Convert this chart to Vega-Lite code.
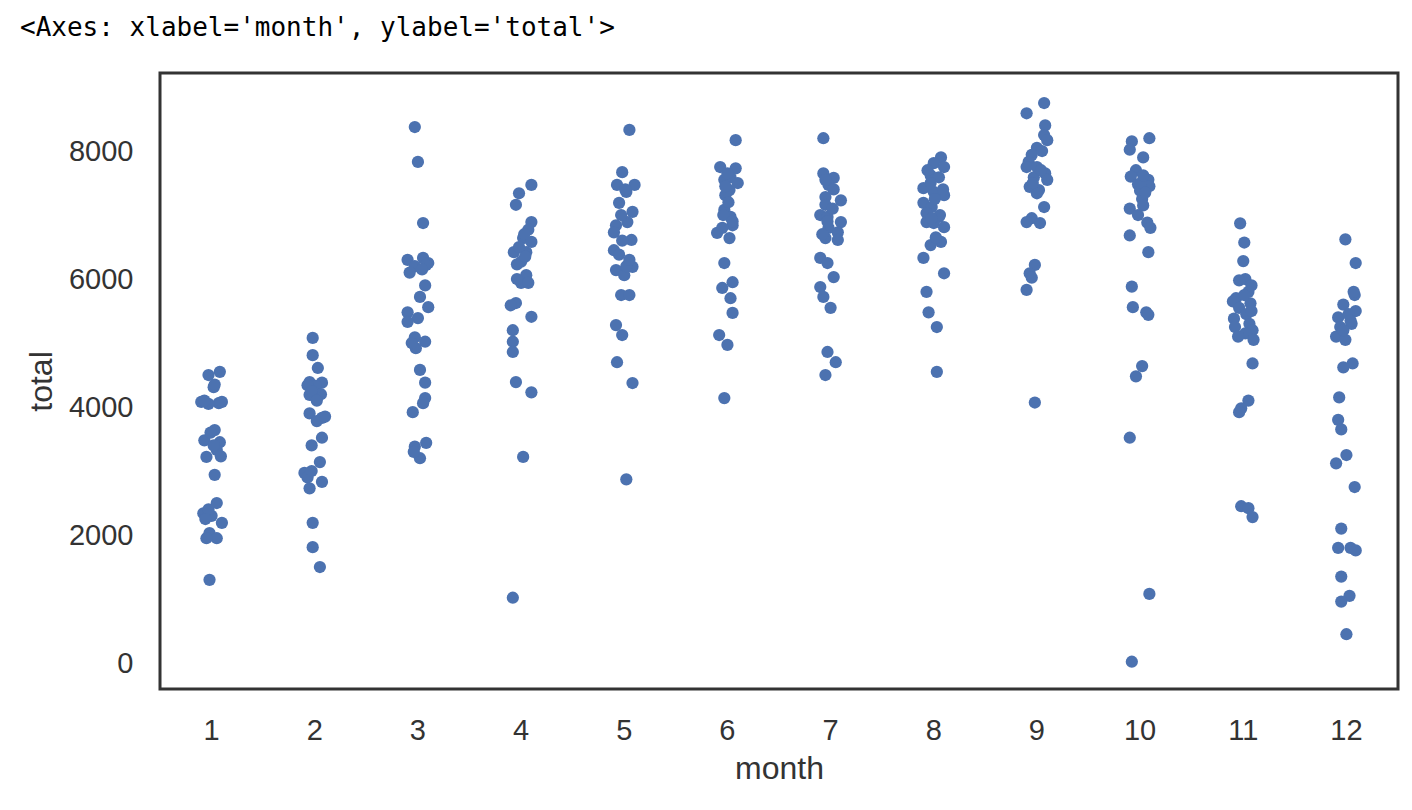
{
  "$schema": "https://vega.github.io/schema/vega-lite/v6.json",
  "width": 1238,
  "height": 616,
  "autosize": {"type": "none"},
  "padding": {"left": 160, "top": 73, "right": 14, "bottom": 121},
  "background": "white",
  "title": {
    "text": "<Axes: xlabel='month', ylabel='total'>",
    "anchor": "start",
    "frame": "group",
    "dx": -140,
    "offset": 32,
    "font": "DejaVu Sans Mono",
    "fontSize": 26,
    "fontWeight": "normal",
    "color": "#000000"
  },
  "config": {
    "view": {"stroke": "#333333", "strokeWidth": 3},
    "axis": {
      "domain": false,
      "ticks": false,
      "grid": false,
      "labelFont": "Liberation Sans",
      "titleFont": "Liberation Sans",
      "labelFontSize": 29,
      "titleFontSize": 32,
      "labelColor": "#333333",
      "titleColor": "#333333",
      "titleFontWeight": "normal"
    }
  },
  "datasets": {
    "d": [
      {"month":1,"total":4550,"j":0.08},{"month":1,"total":4500,"j":-0.03},{"month":1,"total":4310,"j":0.02},{"month":1,"total":4080,"j":-0.1},{"month":1,"total":4060,"j":0.07},{"month":1,"total":4080,"j":0.1},{"month":1,"total":4050,"j":-0.03},{"month":1,"total":3640,"j":0.03},{"month":1,"total":3480,"j":-0.07},{"month":1,"total":3450,"j":0.08},{"month":1,"total":3330,"j":0.05},{"month":1,"total":3220,"j":-0.05},{"month":1,"total":3230,"j":0.09},{"month":1,"total":2940,"j":0.03},{"month":1,"total":2500,"j":0.05},{"month":1,"total":2340,"j":-0.08},{"month":1,"total":2300,"j":0.0},{"month":1,"total":2400,"j":-0.03},{"month":1,"total":2190,"j":0.1},{"month":1,"total":2030,"j":-0.02},{"month":1,"total":1950,"j":0.05},{"month":1,"total":1950,"j":-0.05},{"month":1,"total":1300,"j":-0.02},{"month":1,"total":3400,"j":0.02},{"month":1,"total":3600,"j":-0.01},{"month":1,"total":2250,"j":-0.06},{"month":1,"total":4100,"j":-0.07},{"month":1,"total":4350,"j":0.03},
      {"month":2,"total":5080,"j":-0.02},{"month":2,"total":4810,"j":-0.02},{"month":2,"total":4610,"j":0.03},{"month":2,"total":4390,"j":-0.05},{"month":2,"total":4380,"j":0.07},{"month":2,"total":4330,"j":0.01},{"month":2,"total":4190,"j":-0.05},{"month":2,"total":4200,"j":0.06},{"month":2,"total":4150,"j":0.01},{"month":2,"total":4340,"j":-0.07},{"month":2,"total":3900,"j":-0.05},{"month":2,"total":3830,"j":0.07},{"month":2,"total":3780,"j":0.02},{"month":2,"total":3850,"j":0.1},{"month":2,"total":3520,"j":0.07},{"month":2,"total":3400,"j":-0.03},{"month":2,"total":3140,"j":0.05},{"month":2,"total":2970,"j":-0.1},{"month":2,"total":2900,"j":-0.07},{"month":2,"total":2830,"j":0.07},{"month":2,"total":2730,"j":-0.05},{"month":2,"total":2190,"j":-0.02},{"month":2,"total":1810,"j":-0.02},{"month":2,"total":1500,"j":0.05},{"month":2,"total":4250,"j":-0.03},{"month":2,"total":3000,"j":-0.03},{"month":2,"total":4100,"j":0.02},
      {"month":3,"total":8375,"j":-0.03},{"month":3,"total":7830,"j":0.0},{"month":3,"total":6875,"j":0.05},{"month":3,"total":6300,"j":-0.1},{"month":3,"total":6330,"j":0.05},{"month":3,"total":6250,"j":0.1},{"month":3,"total":6200,"j":-0.03},{"month":3,"total":6100,"j":-0.08},{"month":3,"total":6220,"j":0.08},{"month":3,"total":5900,"j":0.07},{"month":3,"total":5720,"j":0.02},{"month":3,"total":5560,"j":0.1},{"month":3,"total":5480,"j":-0.1},{"month":3,"total":5390,"j":0.0},{"month":3,"total":5330,"j":-0.1},{"month":3,"total":5090,"j":-0.03},{"month":3,"total":5020,"j":0.07},{"month":3,"total":4920,"j":-0.02},{"month":3,"total":5000,"j":-0.06},{"month":3,"total":4580,"j":0.02},{"month":3,"total":4380,"j":0.07},{"month":3,"total":4140,"j":0.07},{"month":3,"total":3920,"j":-0.05},{"month":3,"total":4060,"j":0.05},{"month":3,"total":3380,"j":-0.03},{"month":3,"total":3440,"j":0.08},{"month":3,"total":3200,"j":0.02},{"month":3,"total":6150,"j":0.04},{"month":3,"total":3300,"j":-0.04},
      {"month":4,"total":7470,"j":0.1},{"month":4,"total":7340,"j":-0.02},{"month":4,"total":7160,"j":-0.05},{"month":4,"total":6890,"j":0.1},{"month":4,"total":6770,"j":0.07},{"month":4,"total":6640,"j":0.02},{"month":4,"total":6580,"j":0.1},{"month":4,"total":6420,"j":-0.07},{"month":4,"total":6420,"j":0.05},{"month":4,"total":6270,"j":0.0},{"month":4,"total":6230,"j":-0.04},{"month":4,"total":6060,"j":0.05},{"month":4,"total":5940,"j":0.0},{"month":4,"total":5940,"j":0.07},{"month":4,"total":5625,"j":-0.05},{"month":4,"total":5590,"j":-0.1},{"month":4,"total":5410,"j":0.1},{"month":4,"total":5200,"j":-0.08},{"month":4,"total":5020,"j":-0.08},{"month":4,"total":4860,"j":-0.08},{"month":4,"total":4390,"j":-0.05},{"month":4,"total":4230,"j":0.1},{"month":4,"total":3220,"j":0.02},{"month":4,"total":1020,"j":-0.08},{"month":4,"total":6500,"j":-0.02},{"month":4,"total":6700,"j":0.03},{"month":4,"total":6000,"j":-0.04},{"month":4,"total":6350,"j":0.04},
      {"month":5,"total":8330,"j":0.05},{"month":5,"total":7670,"j":-0.02},{"month":5,"total":7470,"j":-0.07},{"month":5,"total":7470,"j":0.1},{"month":5,"total":7360,"j":0.02},{"month":5,"total":7190,"j":-0.05},{"month":5,"total":7050,"j":0.08},{"month":5,"total":6890,"j":0.03},{"month":5,"total":6840,"j":-0.08},{"month":5,"total":6730,"j":-0.1},{"month":5,"total":6610,"j":0.07},{"month":5,"total":6600,"j":-0.02},{"month":5,"total":6450,"j":-0.1},{"month":5,"total":6380,"j":-0.05},{"month":5,"total":6140,"j":-0.08},{"month":5,"total":6190,"j":0.08},{"month":5,"total":6060,"j":0.0},{"month":5,"total":6200,"j":0.02},{"month":5,"total":5750,"j":-0.03},{"month":5,"total":5750,"j":0.05},{"month":5,"total":5280,"j":-0.08},{"month":5,"total":5125,"j":-0.02},{"month":5,"total":4700,"j":-0.07},{"month":5,"total":4375,"j":0.08},{"month":5,"total":2870,"j":0.02},{"month":5,"total":7000,"j":-0.03},{"month":5,"total":6300,"j":0.05},{"month":5,"total":7400,"j":0.01},
      {"month":6,"total":8170,"j":0.08},{"month":6,"total":7750,"j":-0.07},{"month":6,"total":7730,"j":0.08},{"month":6,"total":7590,"j":0.03},{"month":6,"total":7550,"j":-0.03},{"month":6,"total":7500,"j":0.1},{"month":6,"total":7390,"j":0.02},{"month":6,"total":7310,"j":-0.02},{"month":6,"total":7080,"j":-0.03},{"month":6,"total":6970,"j":0.03},{"month":6,"total":6840,"j":0.05},{"month":6,"total":6720,"j":-0.1},{"month":6,"total":6640,"j":0.02},{"month":6,"total":6250,"j":-0.03},{"month":6,"total":5950,"j":0.05},{"month":6,"total":5860,"j":-0.05},{"month":6,"total":5700,"j":0.03},{"month":6,"total":5470,"j":0.05},{"month":6,"total":5125,"j":-0.08},{"month":6,"total":4970,"j":0.0},{"month":6,"total":4140,"j":-0.03},{"month":6,"total":7000,"j":-0.04},{"month":6,"total":6900,"j":0.05},{"month":6,"total":7450,"j":-0.02},{"month":6,"total":6800,"j":-0.05},{"month":6,"total":7200,"j":0.01},{"month":6,"total":7650,"j":0.0},
      {"month":7,"total":8200,"j":-0.07},{"month":7,"total":7650,"j":-0.07},{"month":7,"total":7580,"j":0.03},{"month":7,"total":7470,"j":-0.02},{"month":7,"total":7280,"j":-0.05},{"month":7,"total":7230,"j":0.1},{"month":7,"total":7160,"j":-0.05},{"month":7,"total":7000,"j":-0.1},{"month":7,"total":6970,"j":-0.03},{"month":7,"total":6890,"j":0.1},{"month":7,"total":6800,"j":-0.02},{"month":7,"total":6730,"j":0.07},{"month":7,"total":6640,"j":-0.05},{"month":7,"total":6610,"j":0.07},{"month":7,"total":6330,"j":-0.1},{"month":7,"total":6250,"j":-0.03},{"month":7,"total":6030,"j":0.03},{"month":7,"total":5875,"j":-0.1},{"month":7,"total":5720,"j":-0.07},{"month":7,"total":5550,"j":0.0},{"month":7,"total":4860,"j":-0.03},{"month":7,"total":4700,"j":0.05},{"month":7,"total":4500,"j":-0.05},{"month":7,"total":7100,"j":0.02},{"month":7,"total":6900,"j":-0.03},{"month":7,"total":7400,"j":0.03},{"month":7,"total":6700,"j":-0.08},{"month":7,"total":7550,"j":-0.05},
      {"month":8,"total":7900,"j":0.07},{"month":8,"total":7810,"j":0.0},{"month":8,"total":7750,"j":0.1},{"month":8,"total":7620,"j":-0.03},{"month":8,"total":7590,"j":0.05},{"month":8,"total":7420,"j":-0.1},{"month":8,"total":7360,"j":0.0},{"month":8,"total":7310,"j":0.1},{"month":8,"total":7190,"j":-0.1},{"month":8,"total":7125,"j":-0.02},{"month":8,"total":7030,"j":-0.07},{"month":8,"total":6970,"j":0.05},{"month":8,"total":6890,"j":-0.07},{"month":8,"total":6875,"j":0.0},{"month":8,"total":6810,"j":0.1},{"month":8,"total":6580,"j":0.07},{"month":8,"total":6530,"j":-0.03},{"month":8,"total":6330,"j":-0.1},{"month":8,"total":6090,"j":0.1},{"month":8,"total":5800,"j":-0.07},{"month":8,"total":5480,"j":-0.05},{"month":8,"total":5250,"j":0.03},{"month":8,"total":4550,"j":0.03},{"month":8,"total":7500,"j":-0.03},{"month":8,"total":7000,"j":0.06},{"month":8,"total":7250,"j":0.01},{"month":8,"total":6650,"j":0.02},{"month":8,"total":7700,"j":-0.06},{"month":8,"total":6950,"j":-0.02},{"month":8,"total":7400,"j":0.09},
      {"month":9,"total":8750,"j":0.07},{"month":9,"total":8590,"j":-0.1},{"month":9,"total":8400,"j":0.08},{"month":9,"total":8250,"j":0.07},{"month":9,"total":8170,"j":0.1},{"month":9,"total":8050,"j":0.0},{"month":9,"total":7940,"j":-0.05},{"month":9,"total":7830,"j":-0.08},{"month":9,"total":7750,"j":-0.1},{"month":9,"total":7750,"j":0.0},{"month":9,"total":7650,"j":0.08},{"month":9,"total":7590,"j":-0.03},{"month":9,"total":7550,"j":0.1},{"month":9,"total":7440,"j":-0.07},{"month":9,"total":7390,"j":0.02},{"month":9,"total":7340,"j":0.0},{"month":9,"total":7125,"j":0.07},{"month":9,"total":6950,"j":-0.05},{"month":9,"total":6890,"j":-0.1},{"month":9,"total":6875,"j":0.03},{"month":9,"total":6220,"j":-0.02},{"month":9,"total":6090,"j":-0.07},{"month":9,"total":6020,"j":-0.05},{"month":9,"total":5830,"j":-0.1},{"month":9,"total":4070,"j":-0.02},{"month":9,"total":7700,"j":0.04},{"month":9,"total":7500,"j":-0.04},{"month":9,"total":8000,"j":0.05},
      {"month":10,"total":8200,"j":0.09},{"month":10,"total":8150,"j":-0.08},{"month":10,"total":8020,"j":-0.1},{"month":10,"total":7900,"j":0.03},{"month":10,"total":7700,"j":-0.04},{"month":10,"total":7600,"j":-0.09},{"month":10,"total":7550,"j":0.08},{"month":10,"total":7480,"j":-0.02},{"month":10,"total":7450,"j":0.09},{"month":10,"total":7380,"j":0.0},{"month":10,"total":7250,"j":0.02},{"month":10,"total":7100,"j":-0.1},{"month":10,"total":7150,"j":0.03},{"month":10,"total":6880,"j":0.07},{"month":10,"total":6800,"j":0.1},{"month":10,"total":6680,"j":-0.1},{"month":10,"total":6420,"j":0.08},{"month":10,"total":5880,"j":-0.08},{"month":10,"total":5560,"j":-0.07},{"month":10,"total":5480,"j":0.06},{"month":10,"total":5440,"j":0.08},{"month":10,"total":4640,"j":0.02},{"month":10,"total":4480,"j":-0.04},{"month":10,"total":3520,"j":-0.1},{"month":10,"total":1080,"j":0.09},{"month":10,"total":20,"j":-0.08},{"month":10,"total":7500,"j":0.01},{"month":10,"total":7350,"j":0.05},{"month":10,"total":7620,"j":0.03},{"month":10,"total":7000,"j":-0.02},
      {"month":11,"total":6870,"j":-0.03},{"month":11,"total":6570,"j":0.01},{"month":11,"total":6280,"j":0.0},{"month":11,"total":6000,"j":0.02},{"month":11,"total":5980,"j":-0.04},{"month":11,"total":5900,"j":0.08},{"month":11,"total":5800,"j":0.05},{"month":11,"total":5700,"j":-0.07},{"month":11,"total":5650,"j":-0.1},{"month":11,"total":5620,"j":0.07},{"month":11,"total":5550,"j":-0.04},{"month":11,"total":5450,"j":0.03},{"month":11,"total":5380,"j":-0.09},{"month":11,"total":5300,"j":0.06},{"month":11,"total":5250,"j":-0.08},{"month":11,"total":5200,"j":0.09},{"month":11,"total":5150,"j":0.02},{"month":11,"total":5100,"j":-0.05},{"month":11,"total":5050,"j":0.1},{"month":11,"total":4680,"j":0.09},{"month":11,"total":4100,"j":0.05},{"month":11,"total":3980,"j":-0.02},{"month":11,"total":3920,"j":-0.04},{"month":11,"total":2450,"j":-0.02},{"month":11,"total":2420,"j":0.05},{"month":11,"total":2280,"j":0.09},{"month":11,"total":5750,"j":0.01},{"month":11,"total":5500,"j":0.08},
      {"month":12,"total":6620,"j":-0.01},{"month":12,"total":6250,"j":0.09},{"month":12,"total":5750,"j":0.08},{"month":12,"total":5600,"j":-0.03},{"month":12,"total":5500,"j":0.09},{"month":12,"total":5400,"j":-0.08},{"month":12,"total":5300,"j":0.05},{"month":12,"total":5250,"j":-0.06},{"month":12,"total":5100,"j":-0.1},{"month":12,"total":5050,"j":-0.01},{"month":12,"total":4680,"j":0.06},{"month":12,"total":4620,"j":-0.03},{"month":12,"total":4150,"j":-0.07},{"month":12,"total":3800,"j":-0.08},{"month":12,"total":3650,"j":-0.05},{"month":12,"total":3250,"j":0.0},{"month":12,"total":3120,"j":-0.1},{"month":12,"total":2750,"j":0.08},{"month":12,"total":2100,"j":-0.05},{"month":12,"total":1800,"j":-0.08},{"month":12,"total":1800,"j":0.04},{"month":12,"total":1760,"j":0.09},{"month":12,"total":1350,"j":-0.05},{"month":12,"total":1050,"j":0.03},{"month":12,"total":960,"j":-0.05},{"month":12,"total":450,"j":0.0},{"month":12,"total":5200,"j":-0.03},{"month":12,"total":5800,"j":0.07},{"month":12,"total":5450,"j":0.02},{"month":12,"total":5350,"j":0.04}
    ]
  },
  "data": {"name": "d"},
  "mark": {"type": "circle", "size": 150, "opacity": 1, "color": "#4c72b0", "strokeWidth": 0},
  "encoding": {
    "x": {
      "field": "month",
      "type": "ordinal",
      "title": "month",
      "scale": {"paddingInner": 0, "paddingOuter": 0},
      "axis": {"labelAngle": 0, "labelPadding": 27, "titlePadding": 8}
    },
    "xOffset": {
      "field": "j",
      "type": "quantitative",
      "scale": {"domain": [-0.5, 0.5]}
    },
    "y": {
      "field": "total",
      "type": "quantitative",
      "title": "total",
      "scale": {"domain": [-406, 9219], "nice": false, "zero": false},
      "axis": {"values": [0, 2000, 4000, 6000, 8000], "format": "d", "labelPadding": 27, "titlePadding": 10}
    }
  }
}
